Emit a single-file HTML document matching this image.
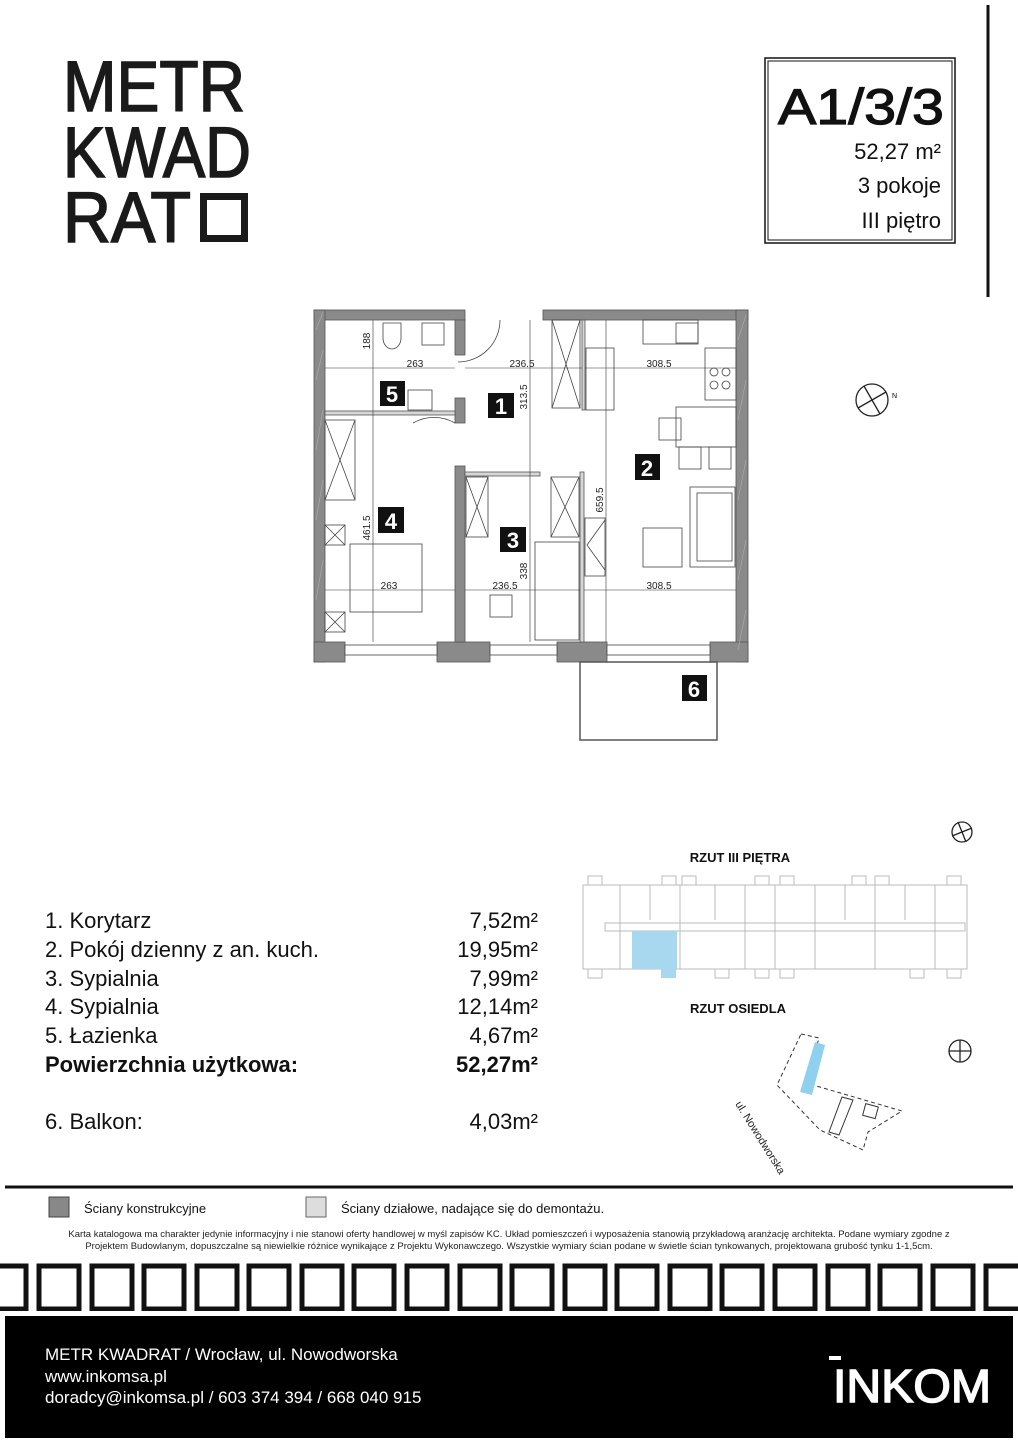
<!DOCTYPE html>
<html><head><meta charset="utf-8"><style>
html,body{margin:0;padding:0;background:#fff}
svg{display:block}
text{font-family:"Liberation Sans",sans-serif}
</style></head><body>
<svg width="1018" height="1440" viewBox="0 0 1018 1440" xmlns="http://www.w3.org/2000/svg">
<!-- Logo -->
<g fill="#1a1a1a" font-size="71" stroke="#1a1a1a" stroke-width="1.6">
<text x="63" y="111" textLength="182" lengthAdjust="spacingAndGlyphs">METR</text>
<text x="63" y="177" textLength="188" lengthAdjust="spacingAndGlyphs">KWAD</text>
<text x="63" y="242" textLength="128" lengthAdjust="spacingAndGlyphs">RAT</text>
</g>
<rect x="203.5" y="196.5" width="41" height="42" fill="none" stroke="#1a1a1a" stroke-width="7"/>
<!-- header box -->
<rect x="765" y="58" width="190" height="185" fill="none" stroke="#111" stroke-width="1.5"/>
<rect x="768" y="61" width="184" height="179" fill="none" stroke="#111" stroke-width="1"/>
<line x1="988" y1="5" x2="988" y2="297" stroke="#111" stroke-width="3"/>
<text x="944" y="124" font-size="50" text-anchor="end" fill="#111" stroke="#111" stroke-width="1.2" textLength="166" lengthAdjust="spacingAndGlyphs">A1/3/3</text>
<text x="941" y="159" font-size="22" text-anchor="end" fill="#111">52,27 m²</text>
<text x="941" y="193" font-size="22" text-anchor="end" fill="#111">3 pokoje</text>
<text x="941" y="228" font-size="22" text-anchor="end" fill="#111">III piętro</text>

<!-- Floor plan -->
<g fill="#8a8a8a" stroke="#555" stroke-width="0.8">
<rect x="314" y="310" width="151" height="10"/>
<rect x="543" y="310" width="205" height="10"/>
<rect x="314" y="310" width="11" height="352"/>
<rect x="736" y="310" width="12" height="352"/>
<rect x="314" y="642" width="31" height="20"/>
<rect x="437" y="642" width="53" height="20"/>
<rect x="557" y="642" width="50" height="20"/>
<rect x="710" y="642" width="38" height="20"/>
<rect x="455" y="320" width="10" height="35"/>
<rect x="455" y="398" width="10" height="25"/>
<rect x="455" y="466" width="10" height="176"/>
</g>
<g stroke="#aaa" stroke-width="0.7" fill="none">
<path d="M316 330l7 -18M316 380l7 -30M316 450l7 -40M316 520l7 -40M316 600l7 -40M738 340l8 -25M738 420l8 -40M738 500l8 -40M738 580l8 -40M738 650l8 -40"/>
</g>
<g fill="#d6d6d6" stroke="#555" stroke-width="0.8">
<rect x="325" y="411" width="130" height="4"/>
<rect x="465" y="472" width="75" height="4"/>
<rect x="580" y="472" width="4" height="170"/>
<rect x="582" y="320" width="3" height="90"/>
</g>
<!-- windows -->
<g fill="#fff" stroke="#444" stroke-width="0.8">
<rect x="345" y="645" width="92" height="10"/>
<rect x="490" y="645" width="67" height="10"/>
<rect x="607" y="645" width="103" height="10"/>
</g>
<!-- balcony -->
<rect x="580" y="662" width="137" height="78" fill="none" stroke="#555" stroke-width="1.5"/>
<!-- furniture -->
<g fill="none" stroke="#444" stroke-width="0.8">
<rect x="422" y="323" width="22" height="22"/>
<path d="M383 323 h18 v15 a9 11 0 0 1 -18 0z"/>
<rect x="408" y="390" width="24" height="20"/>
<rect x="325" y="420" width="30" height="80"/><path d="M325 420 L355 500 M355 420 L325 500"/>
<rect x="325" y="525" width="20" height="20"/><path d="M325 525l20 20M345 525l-20 20"/>
<rect x="325" y="612" width="20" height="20"/><path d="M325 612l20 20M345 612l-20 20"/>
<rect x="350" y="544" width="72" height="68"/>
<rect x="466" y="477" width="22" height="60"/><path d="M466 477l22 60M488 477l-22 60"/>
<rect x="551" y="477" width="28" height="60"/><path d="M551 477l28 60M579 477l-28 60"/>
<rect x="535" y="542" width="44" height="98"/>
<rect x="490" y="595" width="22" height="22"/>
<rect x="552" y="320" width="28" height="88"/><path d="M552 320l28 88M580 320l-28 88"/>
<rect x="586" y="348" width="28" height="62"/>
<rect x="643" y="320" width="55" height="24"/><rect x="676" y="323" width="22" height="20"/>
<rect x="705" y="348" width="31" height="52"/>
<circle cx="714" cy="372" r="4"/><circle cx="726" cy="372" r="4"/><circle cx="714" cy="385" r="4"/><circle cx="726" cy="385" r="4"/>
<rect x="676" y="407" width="60" height="40"/>
<rect x="659" y="418" width="22" height="22"/>
<rect x="679" y="447" width="22" height="22"/><rect x="709" y="447" width="22" height="22"/>
<rect x="690" y="487" width="45" height="80"/><rect x="697" y="493" width="35" height="68"/>
<rect x="643" y="528" width="39" height="39"/>
<rect x="585" y="518" width="20" height="58"/><path d="M605 520l-18 25l18 25"/>
<path d="M455 423 a42 42 0 0 0 -42 0"/>
<path d="M500 320 a42 42 0 0 1 -42 42"/>
</g>
<!-- dimension lines -->
<g stroke="#333" stroke-width="0.6" fill="none">
<line x1="325" y1="368" x2="455" y2="368"/><line x1="465" y1="368" x2="582" y2="368"/><line x1="585" y1="368" x2="736" y2="368"/>
<line x1="325" y1="590" x2="455" y2="590"/><line x1="465" y1="590" x2="580" y2="590"/><line x1="584" y1="590" x2="736" y2="590"/>
<line x1="373" y1="320" x2="373" y2="642"/><line x1="530" y1="320" x2="530" y2="642"/><line x1="606" y1="320" x2="606" y2="642"/>
</g>
<g font-size="10" fill="#222" text-anchor="middle">
<text x="415" y="367">263</text><text x="522" y="367">236.5</text><text x="659" y="367">308.5</text>
<text x="389" y="589">263</text><text x="505" y="589">236.5</text><text x="659" y="589">308.5</text>
<text transform="translate(370,341) rotate(-90)">188</text>
<text transform="translate(527,397) rotate(-90)">313.5</text>
<text transform="translate(603,500) rotate(-90)">659.5</text>
<text transform="translate(370,528) rotate(-90)">461.5</text>
<text transform="translate(527,571) rotate(-90)">338</text>
</g>
<!-- labels -->
<g font-size="22" font-weight="bold" fill="#fff" text-anchor="middle">
<rect x="380" y="381" width="25" height="25" fill="#111"/><text x="392" y="402">5</text>
<rect x="488" y="393" width="26" height="25" fill="#111"/><text x="501" y="414">1</text>
<rect x="635" y="454" width="25" height="26" fill="#111"/><text x="647" y="476">2</text>
<rect x="378" y="507" width="26" height="26" fill="#111"/><text x="391" y="529">4</text>
<rect x="500" y="527" width="26" height="25" fill="#111"/><text x="513" y="548">3</text>
<rect x="682" y="675" width="25" height="26" fill="#111"/><text x="694" y="697">6</text>
</g>
<!-- compasses -->
<g fill="none" stroke="#222" stroke-width="1.3">
<circle cx="872" cy="400" r="16"/><line x1="858" y1="408" x2="886" y2="392"/><line x1="864" y1="386" x2="880" y2="414"/>
<circle cx="962" cy="832" r="10"/><line x1="952" y1="836" x2="972" y2="828"/><line x1="958" y1="822" x2="966" y2="842"/>
<circle cx="960" cy="1051" r="11"/><line x1="949" y1="1051" x2="971" y2="1051"/><line x1="960" y1="1040" x2="960" y2="1062"/>
</g>
<text x="892" y="398" font-size="7">N</text>

<!-- room list -->
<g font-size="22" fill="#111">
<text x="45" y="928">1. Korytarz</text><text x="538" y="928" text-anchor="end">7,52m²</text>
<text x="45" y="957">2. Pokój dzienny z an. kuch.</text><text x="538" y="957" text-anchor="end">19,95m²</text>
<text x="45" y="986">3. Sypialnia</text><text x="538" y="986" text-anchor="end">7,99m²</text>
<text x="45" y="1014">4. Sypialnia</text><text x="538" y="1014" text-anchor="end">12,14m²</text>
<text x="45" y="1043">5. Łazienka</text><text x="538" y="1043" text-anchor="end">4,67m²</text>
<text x="45" y="1072" font-weight="bold">Powierzchnia użytkowa:</text><text x="538" y="1072" text-anchor="end" font-weight="bold">52,27m²</text>
<text x="45" y="1129">6. Balkon:</text><text x="538" y="1129" text-anchor="end">4,03m²</text>
</g>

<!-- site -->
<text x="740" y="862" font-size="13" font-weight="bold" text-anchor="middle" fill="#111">RZUT III PIĘTRA</text>
<text x="738" y="1013" font-size="13" font-weight="bold" text-anchor="middle" fill="#111">RZUT OSIEDLA</text>
<g fill="none" stroke="#bbb" stroke-width="1">
<rect x="583" y="885" width="384" height="84"/>
<rect x="605" y="923" width="360" height="8"/>
<line x1="775" y1="885" x2="775" y2="969"/>
<line x1="620" y1="885" x2="620" y2="969"/><line x1="650" y1="885" x2="650" y2="920"/><line x1="680" y1="885" x2="680" y2="969"/>
<line x1="715" y1="885" x2="715" y2="920"/><line x1="745" y1="885" x2="745" y2="969"/><line x1="815" y1="885" x2="815" y2="969"/>
<line x1="845" y1="885" x2="845" y2="920"/><line x1="875" y1="885" x2="875" y2="969"/><line x1="905" y1="885" x2="905" y2="920"/><line x1="935" y1="885" x2="935" y2="969"/>
<rect x="588" y="876" width="14" height="9"/><rect x="662" y="876" width="14" height="9"/><rect x="682" y="876" width="14" height="9"/>
<rect x="755" y="876" width="14" height="9"/><rect x="780" y="876" width="14" height="9"/><rect x="852" y="876" width="14" height="9"/><rect x="875" y="876" width="14" height="9"/><rect x="947" y="876" width="14" height="9"/>
<rect x="588" y="969" width="14" height="9"/><rect x="715" y="969" width="14" height="9"/><rect x="755" y="969" width="14" height="9"/><rect x="780" y="969" width="14" height="9"/><rect x="910" y="969" width="14" height="9"/><rect x="947" y="969" width="14" height="9"/>
</g>
<rect x="632" y="931" width="45" height="38" fill="#a8d8f0"/>
<rect x="661" y="969" width="15" height="9" fill="#a8d8f0"/>
<path d="M801 1034 L819 1038 L806 1083 L902 1111 L868 1132 L863 1150 L820 1130 L777 1085 Z" fill="none" stroke="#333" stroke-width="1" stroke-dasharray="4 3"/>
<path d="M815 1042 L825 1045 L812 1095 L800 1092 Z" fill="#8fd0ee"/>
<path d="M842 1097 L853 1100 L839 1135 L829 1132 Z" fill="none" stroke="#333"/>
<rect x="864" y="1105" width="13" height="12" fill="none" stroke="#333" transform="rotate(15 870 1111)"/>
<text transform="translate(735,1104) rotate(58)" font-size="11" fill="#222">ul. Nowodworska</text>

<!-- bottom -->
<line x1="5" y1="1187" x2="1013" y2="1187" stroke="#111" stroke-width="3"/>
<rect x="49" y="1197" width="20" height="20" fill="#888" stroke="#444"/>
<text x="84" y="1213" font-size="13" fill="#111">Ściany konstrukcyjne</text>
<rect x="306" y="1197" width="20" height="20" fill="#ddd" stroke="#666"/>
<text x="341" y="1213" font-size="13" fill="#111">Ściany działowe, nadające się do demontażu.</text>
<text x="509" y="1237" font-size="9.5" text-anchor="middle" fill="#222">Karta katalogowa ma charakter jedynie informacyjny i nie stanowi oferty handlowej w myśl zapisów KC. Układ pomieszczeń i wyposażenia stanowią przykładową aranżację architekta. Podane wymiary zgodne z</text>
<text x="509" y="1249" font-size="9.5" text-anchor="middle" fill="#222">Projektem Budowlanym, dopuszczalne są niewielkie różnice wynikające z Projektu Wykonawczego. Wszystkie wymiary ścian podane w świetle ścian tynkowanych, projektowana grubość tynku 1-1,5cm.</text>
<g fill="none" stroke="#111" stroke-width="5">
<rect x="-14" y="1266" width="40" height="43"/>
<rect x="39" y="1266" width="40" height="43"/><rect x="92" y="1266" width="40" height="43"/><rect x="144" y="1266" width="40" height="43"/><rect x="197" y="1266" width="40" height="43"/><rect x="249" y="1266" width="40" height="43"/><rect x="302" y="1266" width="40" height="43"/><rect x="354" y="1266" width="40" height="43"/><rect x="407" y="1266" width="40" height="43"/><rect x="460" y="1266" width="40" height="43"/><rect x="512" y="1266" width="40" height="43"/><rect x="565" y="1266" width="40" height="43"/><rect x="617" y="1266" width="40" height="43"/><rect x="670" y="1266" width="40" height="43"/><rect x="722" y="1266" width="40" height="43"/><rect x="775" y="1266" width="40" height="43"/><rect x="828" y="1266" width="40" height="43"/><rect x="880" y="1266" width="40" height="43"/><rect x="933" y="1266" width="40" height="43"/><rect x="986" y="1266" width="40" height="43"/>
</g>
<rect x="0" y="1311" width="1018" height="5" fill="#fff"/>
<rect x="5" y="1316" width="1008" height="122" fill="#000"/>
<g fill="#fff" font-size="17">
<text x="45" y="1360">METR KWADRAT / Wrocław, ul. Nowodworska</text>
<text x="45" y="1382">www.inkomsa.pl</text>
<text x="45" y="1403">doradcy@inkomsa.pl / 603 374 394 / 668 040 915</text>
</g>
<text x="833" y="1402" font-size="46" fill="#fff" stroke="#fff" stroke-width="1.5" textLength="158" lengthAdjust="spacingAndGlyphs">INKOM</text>
<rect x="829" y="1356" width="12" height="4" fill="#fff"/>
</svg>
</body></html>
